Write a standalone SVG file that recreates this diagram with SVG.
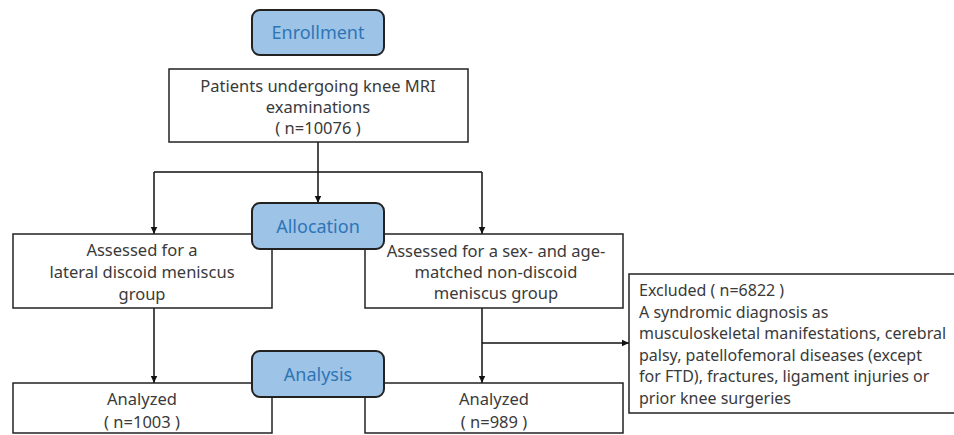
<svg xmlns="http://www.w3.org/2000/svg" width="954" height="435" viewBox="0 0 954 435">
<defs>
<marker id="arr" markerWidth="8" markerHeight="8" refX="7" refY="4" orient="auto" markerUnits="userSpaceOnUse">
<path d="M0,0.8 L7,4 L0,7.2 Z" fill="#111"/>
</marker>
</defs>
<style>
.box{fill:#fff;stroke:#222;stroke-width:1.5}
.stage{fill:#9dc3e6;stroke:#222;stroke-width:2}
.t{font-family:"Noto Sans","Liberation Sans",sans-serif;font-size:16.5px;fill:#3a3a3a;text-anchor:middle}
.tl{font-family:"Noto Sans","Liberation Sans",sans-serif;font-size:16px;fill:#3a3a3a}
.st{font-family:"Noto Sans","Liberation Sans",sans-serif;font-size:18px;fill:#2e75b6;text-anchor:middle}
.c{fill:none;stroke:#111;stroke-width:1.5}
</style>
<rect width="954" height="435" fill="#fff"/>
<g id="connectors">
<path class="c" d="M318,142 V203" marker-end="url(#arr)"/>
<path class="c" d="M154,172 H482"/>
<path class="c" d="M154,172 V234" marker-end="url(#arr)"/>
<path class="c" d="M482,172 V234" marker-end="url(#arr)"/>
<path class="c" d="M154,308 V383" marker-end="url(#arr)"/>
<path class="c" d="M482,308 V383" marker-end="url(#arr)"/>
<path class="c" d="M482,343 H629" marker-end="url(#arr)"/>
</g>
<g id="patients">
<rect class="box" x="169" y="69" width="299" height="73"/>
<text class="t" x="318" y="92">Patients undergoing knee MRI</text>
<text class="t" x="318" y="113">examinations</text>
<text class="t" x="318" y="134">( n=10076 )</text>
</g>
<g id="lateral">
<rect class="box" x="13" y="234" width="259" height="74"/>
<text class="t" x="142" y="256">Assessed for a</text>
<text class="t" x="142" y="278">lateral discoid meniscus</text>
<text class="t" x="142" y="300">group</text>
</g>
<g id="nondiscoid">
<rect class="box" x="365" y="234" width="258" height="74"/>
<text class="t" x="496" y="257">Assessed for a sex- and age-</text>
<text class="t" x="496" y="278">matched non-discoid</text>
<text class="t" x="496" y="299">meniscus group</text>
</g>
<g id="excluded">
<rect class="box" x="629" y="274" width="340" height="139"/>
<text class="tl" x="639" y="296">Excluded ( n=6822 )</text>
<text class="tl" x="639" y="318">A syndromic diagnosis as</text>
<text class="tl" x="639" y="339">musculoskeletal manifestations, cerebral</text>
<text class="tl" x="639" y="361">palsy, patellofemoral diseases (except</text>
<text class="tl" x="639" y="382">for FTD), fractures, ligament injuries or</text>
<text class="tl" x="639" y="404">prior knee surgeries</text>
</g>
<g id="analyzed-left">
<rect class="box" x="13" y="383" width="259" height="50"/>
<text class="t" x="142" y="405">Analyzed</text>
<text class="t" x="142" y="428">( n=1003 )</text>
</g>
<g id="analyzed-right">
<rect class="box" x="365" y="383" width="258" height="50"/>
<text class="t" x="494" y="405">Analyzed</text>
<text class="t" x="494" y="428">( n=989 )</text>
</g>
<g id="enrollment">
<rect class="stage" x="252" y="10" width="132" height="45" rx="8"/>
<text class="st" x="318" y="39">Enrollment</text>
</g>
<g id="allocation">
<rect class="stage" x="252" y="203" width="132" height="46" rx="8"/>
<text class="st" x="318" y="233">Allocation</text>
</g>
<g id="analysis">
<rect class="stage" x="252" y="351" width="132" height="46" rx="8"/>
<text class="st" x="318" y="381">Analysis</text>
</g>
</svg>
